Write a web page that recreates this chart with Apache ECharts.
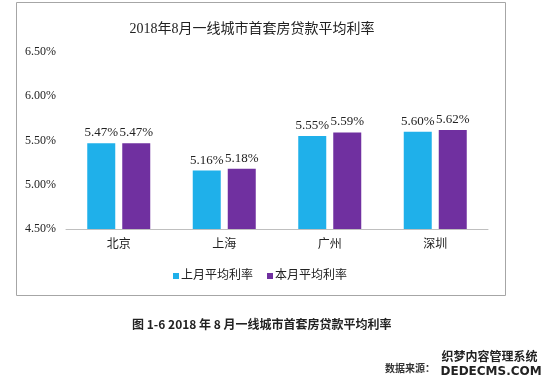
<!DOCTYPE html>
<html><head><meta charset="utf-8">
<script src="https://cdn.jsdelivr.net/npm/echarts@6/dist/echarts.min.js"></script>
<style>html,body{margin:0;padding:0;background:#fff}#c{width:550px;height:385px}</style>
</head><body><div id="c"></div>
<script>
const categories = ['北京', '上海', '广州', '深圳'];
const lastMonth = [5.47, 5.16, 5.55, 5.60];
const thisMonth = [5.47, 5.18, 5.59, 5.62];
const seriesNames = ['上月平均利率', '本月平均利率'];
const yMin = 4.5, yMax = 6.5, yStep = 0.5;

const serif = '"Liberation Serif", "Times New Roman", "Noto Sans CJK SC", serif';
const chart = echarts.init(document.getElementById('c'));
const labelCfg = {
  show: true, position: 'top', distance: 4, color: '#222',
  fontFamily: serif, fontSize: 13,
  formatter: p => p.value.toFixed(2) + '%'
};
chart.setOption({
  animation: false,
  title: {
    text: '2018年8月一线城市首套房贷款平均利率',
    left: 247, top: 17, textAlign: 'center',
    textStyle: { fontFamily: serif, fontSize: 14, fontWeight: 'normal', color: '#222' }
  },
  grid: { left: 66, right: 62, top: 52, bottom: 156 },
  legend: {
    data: seriesNames, left: 168, top: 265, icon: 'rect',
    itemWidth: 6, itemHeight: 6, itemGap: 14,
    textStyle: { fontFamily: serif, fontSize: 12, color: '#222', padding: [0, 0, 0, -3] }
  },
  xAxis: {
    type: 'category', data: categories,
    axisTick: { show: false },
    axisLine: { lineStyle: { color: '#bfbfbf', width: 1 } },
    axisLabel: { color: '#222', fontFamily: serif, fontSize: 12, margin: 10 }
  },
  yAxis: {
    type: 'value', min: yMin, max: yMax, interval: yStep,
    splitLine: { show: false }, axisLine: { show: false }, axisTick: { show: false },
    axisLabel: { color: '#222', fontFamily: serif, fontSize: 12, margin: 10,
      formatter: v => v.toFixed(2) + '%' }
  },
  series: [
    { name: seriesNames[0], type: 'bar', data: lastMonth, barWidth: 28, barGap: '25%',
      itemStyle: { color: '#1FB0EA' }, label: labelCfg },
    { name: seriesNames[1], type: 'bar', data: thisMonth, barWidth: 28,
      itemStyle: { color: '#7030A0' }, label: labelCfg }
  ],
  graphic: [
    { type: 'rect', shape: { x: 16.5, y: 2.5, width: 489, height: 293 }, z: -1,
      style: { fill: 'none', stroke: '#a6a6a6', lineWidth: 1 } },
    { type: 'text', left: 132, top: 318,
      style: { text: '图 1-6 2018 年 8 月一线城市首套房贷款平均利率', fontFamily: '"Noto Sans CJK SC", sans-serif',
        fontSize: 12, fontWeight: 'bold', fill: '#222' } },
    { type: 'text', left: 385, top: 363,
      style: { text: '数据来源：', fontFamily: '"Noto Sans CJK SC", sans-serif',
        fontSize: 10, fontWeight: 'bold', fill: '#333' } },
    { type: 'text', left: 441, top: 350,
      style: { text: '织梦内容管理系统', fontFamily: '"Noto Sans CJK SC", sans-serif',
        fontSize: 12, fontWeight: 'bold', fill: '#222', stroke: '#fff', lineWidth: 1 } },
    { type: 'text', left: 440, top: 365,
      style: { text: 'DEDECMS.COM', fontFamily: '"DejaVu Sans", sans-serif',
        fontSize: 12, fontWeight: 'bold', fill: '#222', stroke: '#fff', lineWidth: 1 } }
  ]
});
</script></body></html>
